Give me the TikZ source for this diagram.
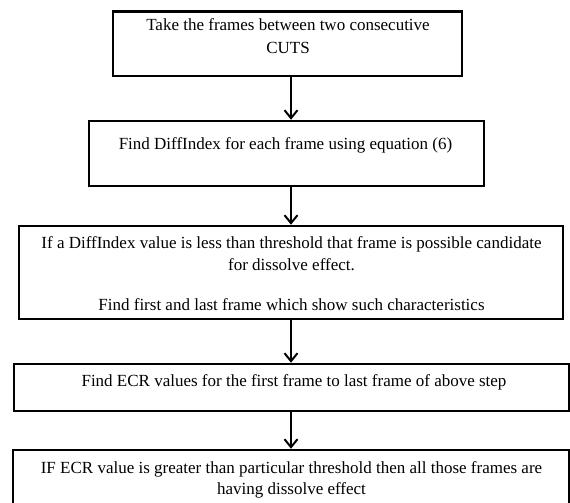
\documentclass[tikz,border=0pt]{standalone}
\usepackage{fontspec}
\setmainfont{Liberation Serif}
\usetikzlibrary{arrows.meta}
\begin{document}
\begin{tikzpicture}[x=1pt,y=-1pt,
  box/.style={draw, line width=2.5pt, inner sep=0pt},
  txt/.style={font=\fontsize{17}{22}\selectfont, inner sep=0pt, text height=12pt, text depth=4pt},
  arr/.style={line width=2pt, -{Straight Barb[length=8pt,width=13pt]}}]
\useasboundingbox (0,0) rectangle (570,503);
\clip (0,0) rectangle (570,503);
\fill[white] (0,0) rectangle (570,503);
% boxes
\node[box, minimum width=349pt, minimum height=64.5pt] (b1) at (287.5,43.75) {};
\node[box, minimum width=395pt, minimum height=65pt] (b2) at (286.5,153.5) {};
\node[box, minimum width=544pt, minimum height=93pt] (b3) at (291,272.5) {};
\node[box, minimum width=555pt, minimum height=47pt] (b4) at (291.5,387.5) {};
\node[box, minimum width=556pt, minimum height=80pt] (b5) at (291,490) {};
% texts
\node[txt] (t1a) at (288,27) {Take the frames between two consecutive};
\node[txt] (t1b) at (288,49) {CUTS};
\node[txt] (t2) at (285.5,145) {Find DiffIndex for each frame using equation (6)};
\node[txt] (t3a) at (291.5,244) {If a DiffIndex value is less than threshold that frame is possible candidate};
\node[txt] (t3b) at (291.5,266) {for dissolve effect.};
\node[txt] (t3c) at (291.5,306) {Find first and last frame which show such characteristics};
\node[txt] (t4) at (294,382) {Find ECR values for the first frame to last frame of above step};
\node[txt] (t5a) at (291.5,469) {IF ECR value is greater than particular threshold then all those frames are};
\node[txt] (t5b) at (291.5,490) {having dissolve effect};
% arrows
\coordinate (ax) at (291,0);
\draw[arr] (b1.south -| ax) -- (b2.north -| ax);
\draw[arr] (b2.south -| ax) -- (b3.north -| ax);
\draw[arr] (b3.south -| ax) -- (b4.north -| ax);
\draw[arr] (b4.south -| ax) -- (b5.north -| ax);
\end{tikzpicture}
\end{document}
